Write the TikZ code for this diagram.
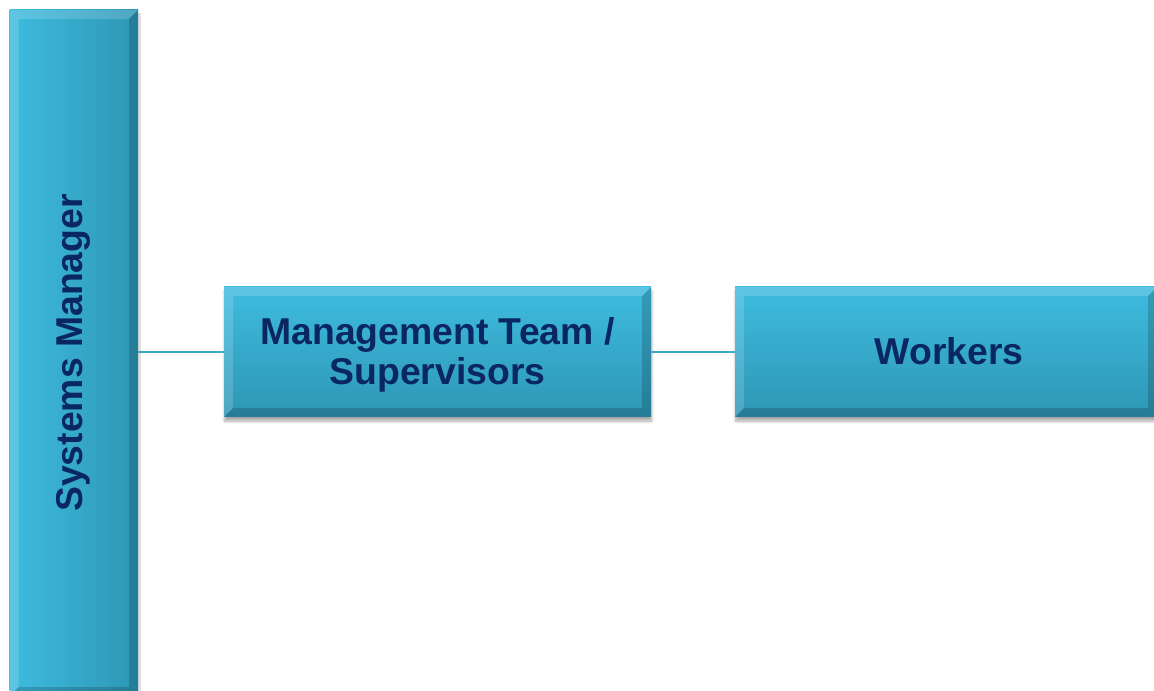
\documentclass[tikz,border=0pt]{standalone}
\usepackage{fontspec}
\setmainfont{Liberation Sans}
\usetikzlibrary{calc,shadows.blur}
\definecolor{boxtop}{HTML}{3EBCDF}
\definecolor{boxbot}{HTML}{2E96B5}
\definecolor{txt}{HTML}{0A2762}
\definecolor{line}{HTML}{3FA9C4}
\tikzset{
  box/.style={inner sep=0pt, top color=boxtop, bottom color=boxbot,
    blur shadow={shadow xshift=0.5pt, shadow yshift=-3pt, shadow blur steps=6, shadow opacity=35}},
  label/.style={inner sep=0pt, align=center, text=txt,
    font=\bfseries\fontsize{28}{30}\selectfont},
  conn/.style={draw=line, line width=1.1pt},
  hi/.style={fill=white, fill opacity=0.16, draw=none},
  lo/.style={fill=black, fill opacity=0.17, draw=none}
}
\newcommand{\bevelpoly}[5]{% x1 y1 x2 y2 b
  \fill[hi] (#1,#2) -- (#3,#2) -- (#3-#5,#2+#5) -- (#1+#5,#2+#5) -- cycle;
  \fill[hi] (#1,#2) -- (#1+#5,#2+#5) -- (#1+#5,#4-#5) -- (#1,#4) -- cycle;
  \fill[lo] (#1,#4) -- (#3,#4) -- (#3-#5,#4-#5) -- (#1+#5,#4-#5) -- cycle;
  \fill[lo] (#3,#2) -- (#3,#4) -- (#3-#5,#4-#5) -- (#3-#5,#2+#5) -- cycle;
}
\begin{document}
\begin{tikzpicture}[x=0.75pt,y=-0.75pt]
\useasboundingbox (0,0) rectangle (1154,691);
\clip (0,0) rectangle (1154,691);
% vertical bar
\fill[black!25, opacity=0.5] (11,13) rectangle (140.5,699);
\shade[left color=boxtop, right color=boxbot] (9.5,10) rectangle (138,696);
\node[label, rotate=90, minimum width=686*0.75pt, minimum height=128.5*0.75pt] (sys) at (73.75,353) {Systems Manager};
\bevelpoly{9.5}{10}{138}{696}{9}
% management
\node[box, minimum width=427*0.75pt, minimum height=130*0.75pt] (mgmt) at (437.5,352) {};
\bevelpoly{224}{287}{651}{417}{9}
\node[label] (mgmtlabel) at ($(mgmt.center)+(0,3)$) {Management Team /\\Supervisors};
% workers
\node[box, minimum width=422*0.75pt, minimum height=130*0.75pt] (work) at (946,352) {};
\bevelpoly{735}{287}{1157}{417}{9}
\node[label] (worklabel) at ($(work.center)+(3,-1)$) {Workers};
% connectors
\draw[conn] (mgmt.west -| sys.south) -- (mgmt.west);
\draw[conn] (mgmt.east) -- (work.west);
\end{tikzpicture}
\end{document}
